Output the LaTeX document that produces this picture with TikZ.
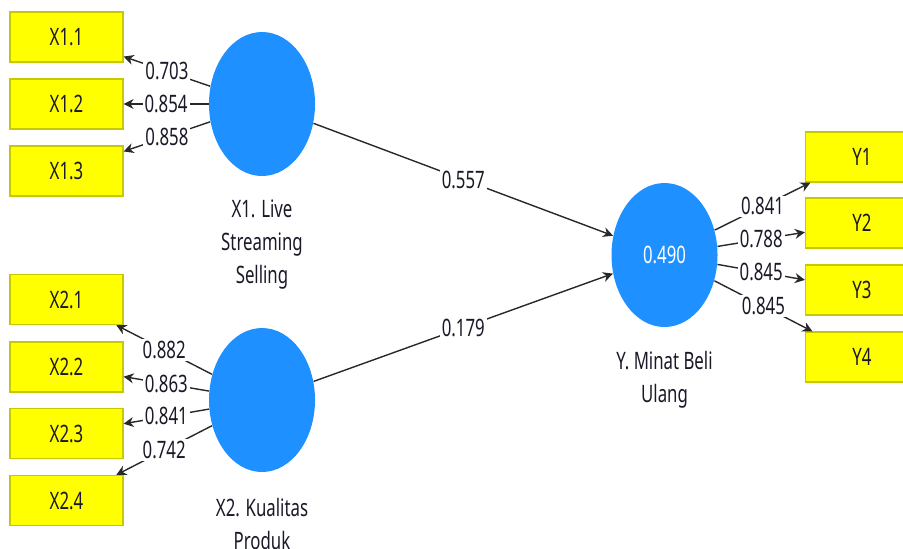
\documentclass[tikz,border=0pt]{standalone}
\usepackage{fontspec}
\setmainfont[FakeStretch=0.7]{Noto Sans}
\usetikzlibrary{shapes.geometric,arrows.meta}
\definecolor{latentblue}{RGB}{30,144,255}
\definecolor{indyellow}{RGB}{255,255,0}
\definecolor{indborder}{RGB}{200,200,0}
\definecolor{linegray}{RGB}{40,40,40}
\definecolor{labeltext}{RGB}{25,25,40}

\begin{document}
\begin{tikzpicture}[x=0.5pt,y=-0.5pt,
    font=\fontsize{12}{16.5}\selectfont,text=labeltext,
    latent/.style={ellipse,fill=latentblue,minimum width=53pt,minimum height=72pt,inner sep=0pt,text=white},
    indicator/.style={rectangle,draw=indborder,fill=indyellow,line width=0.6pt,minimum width=56.5pt,minimum height=25pt,inner sep=0pt},
    loading/.style={draw=linegray,line width=0.7pt,-{Stealth[length=5pt,width=5pt]}},
    coef/.style={fill=white,inner sep=1pt}]
    \useasboundingbox (0,0) rectangle (903,548);
    \clip (0,0) rectangle (903,548);
    % latent variables
    \node[latent] (X1) at (262,104) {};
    \node[latent] (X2) at (262,400) {};
    \node[latent] (Y) at (664.5,255) {0.490};
    \node[align=center] (X1lab) at (262,245) {X1. Live\\Streaming\\Selling};
    \node[align=center] (X2lab) at (262,523.5) {X2. Kualitas\\Produk};
    \node[align=center] (Ylab) at (664.5,380) {Y. Minat Beli\\Ulang};
    % indicators
    \foreach \n/\yy in {1/37,2/104,3/171}
        \node[indicator] (x1\n) at (66.5,\yy) {X1.\n};
    \foreach \n/\yy in {1/299.5,2/367,3/433.5,4/500.5}
        \node[indicator] (x2\n) at (66.5,\yy) {X2.\n};
    \foreach \n/\yy in {1/157,2/223,3/290,4/357}
        \node[indicator] (y\n) at (862,\yy) {Y\n};
    % outer loadings
    \draw[loading] (X1) -- node[coef] {0.703} (x11);
    \draw[loading] (X1) -- node[coef] {0.854} (x12);
    \draw[loading] (X1) -- node[coef] {0.858} (x13);
    \draw[loading] (X2) -- node[coef] {0.882} (x21);
    \draw[loading] (X2) -- node[coef] {0.863} (x22);
    \draw[loading] (X2) -- node[coef] {0.841} (x23);
    \draw[loading] (X2) -- node[coef] {0.742} (x24);
    \draw[loading] (Y) -- node[coef] {0.841} (y1);
    \draw[loading] (Y) -- node[coef] {0.788} (y2);
    \draw[loading] (Y) -- node[coef] {0.845} (y3);
    \draw[loading] (Y) -- node[coef] {0.845} (y4);
    % path coefficients
    \draw[loading] (X1) -- node[coef] {0.557} (Y);
    \draw[loading] (X2) -- node[coef] {0.179} (Y);
\end{tikzpicture}
\end{document}
